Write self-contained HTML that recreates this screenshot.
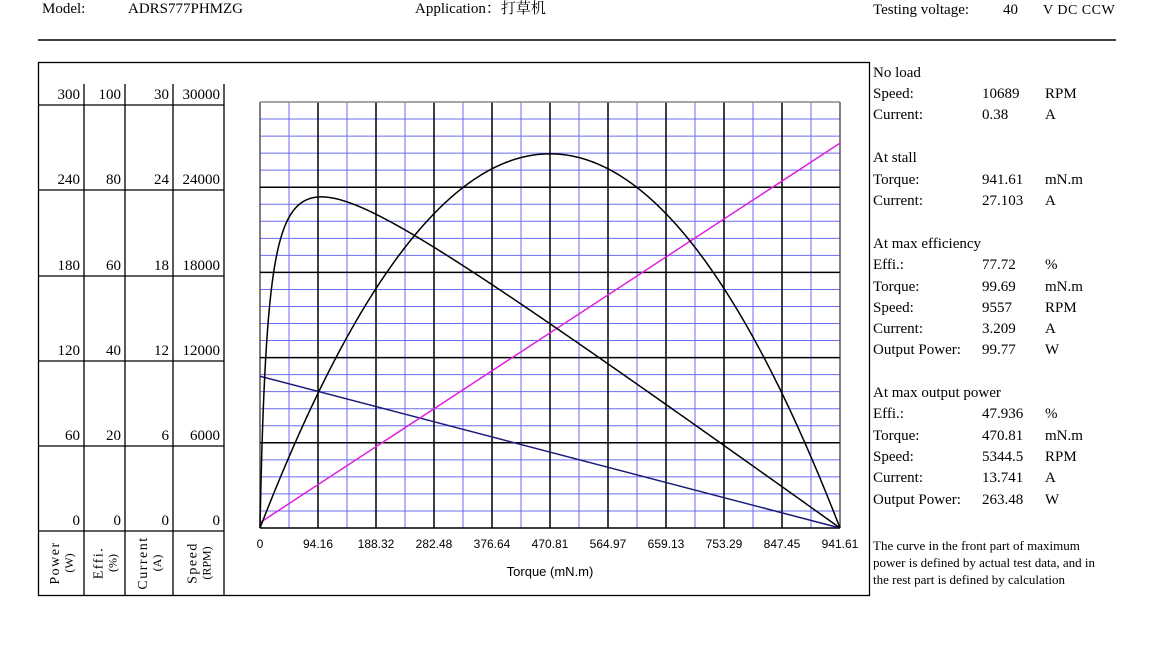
<!DOCTYPE html>
<html><head><meta charset="utf-8"><style>
html,body{margin:0;padding:0;background:#fff;}
svg{display:block;}
.t{font-family:"Liberation Serif","Noto Serif CJK SC",serif;font-size:15px;fill:#000;}
.a{font-family:"Liberation Sans",sans-serif;font-size:12px;fill:#000;}
.s{font-family:"Liberation Serif",serif;font-size:13px;fill:#000;}
.c{font-family:"Liberation Serif",serif;font-size:14px;letter-spacing:1.5px;fill:#000;}
</style></head><body>
<svg id="g" width="1170" height="668" xmlns="http://www.w3.org/2000/svg">
<text class="t" x="42" y="13">Model:</text>
<text class="t" x="128" y="13">ADRS777PHMZG</text>
<text class="t" x="415" y="13" style="font-family:'Liberation Serif','Noto Serif CJK SC',serif">Application：打草机</text>
<text class="t" x="873" y="14">Testing voltage:</text>
<text class="t" x="1003" y="14">40</text>
<text class="t" x="1043" y="14" style="font-size:14px;letter-spacing:0.5px">V  DC  CCW</text>
<line x1="38" y1="40" x2="1116" y2="40" stroke="#000" stroke-width="1.5"/>
<rect x="38.5" y="62.5" width="831" height="533" fill="none" stroke="#000" stroke-width="1.3"/>
<g id="left" stroke="#000" stroke-width="1.3"></g>
<g id="grid"></g>
<g id="curves" fill="none" stroke-width="1.5"></g>
<text class="a" x="550" y="576" text-anchor="middle" style="font-size:13px">Torque (mN.m)</text>
<g class="t">
<text x="873" y="77">No load</text>
<text x="873" y="98">Speed:</text><text x="982" y="98">10689</text><text x="1045" y="98">RPM</text>
<text x="873" y="119">Current:</text><text x="982" y="119">0.38</text><text x="1045" y="119">A</text>
<text x="873" y="162">At stall</text>
<text x="873" y="184">Torque:</text><text x="982" y="184">941.61</text><text x="1045" y="184">mN.m</text>
<text x="873" y="205">Current:</text><text x="982" y="205">27.103</text><text x="1045" y="205">A</text>
<text x="873" y="248">At max efficiency</text>
<text x="873" y="269">Effi.:</text><text x="982" y="269">77.72</text><text x="1045" y="269">%</text>
<text x="873" y="291">Torque:</text><text x="982" y="291">99.69</text><text x="1045" y="291">mN.m</text>
<text x="873" y="312">Speed:</text><text x="982" y="312">9557</text><text x="1045" y="312">RPM</text>
<text x="873" y="333">Current:</text><text x="982" y="333">3.209</text><text x="1045" y="333">A</text>
<text x="873" y="354">Output Power:</text><text x="982" y="354">99.77</text><text x="1045" y="354">W</text>
<text x="873" y="397">At max output power</text>
<text x="873" y="418">Effi.:</text><text x="982" y="418">47.936</text><text x="1045" y="418">%</text>
<text x="873" y="440">Torque:</text><text x="982" y="440">470.81</text><text x="1045" y="440">mN.m</text>
<text x="873" y="461">Speed:</text><text x="982" y="461">5344.5</text><text x="1045" y="461">RPM</text>
<text x="873" y="482">Current:</text><text x="982" y="482">13.741</text><text x="1045" y="482">A</text>
<text x="873" y="504">Output Power:</text><text x="982" y="504">263.48</text><text x="1045" y="504">W</text>
</g>
<g class="s">
<text x="873" y="550">The curve in the front part of maximum</text>
<text x="873" y="567">power is defined by actual test data, and in</text>
<text x="873" y="584">the rest part is defined by calculation</text>
</g>
</svg>
<script>
var NS="http://www.w3.org/2000/svg";
function el(p,n,a,t){var e=document.createElementNS(NS,n);for(var k in a)e.setAttribute(k,a[k]);if(t!==undefined)e.textContent=t;document.getElementById(p).appendChild(e);return e;}
var cols=[38,84,125,173,224];
for(var i=1;i<5;i++)el("left","line",{x1:cols[i],y1:84,x2:cols[i],y2:595});
var rows=[105,190,276,361,446,531];
rows.forEach(function(y){el("left","line",{x1:38,y1:y,x2:224,y2:y});});
var vals=[[300,240,180,120,60,0],[100,80,60,40,20,0],[30,24,18,12,6,0],[30000,24000,18000,12000,6000,0]];
for(var c=0;c<4;c++)for(var r=0;r<6;r++){el("left","text",{x:cols[c+1]-4,y:rows[r]-6,"text-anchor":"end",class:"t",stroke:"none"},vals[c][r]);}
var labs=[["Power","(W)"],["Effi.","(%)"],["Current","(A)"],["Speed","(RPM)"]];
for(var c=0;c<4;c++){var cx=(cols[c]+cols[c+1])/2;
el("left","text",{class:"c",stroke:"none","text-anchor":"middle",transform:"translate("+(cx-2)+",563) rotate(-90)"},labs[c][0]);
el("left","text",{class:"c",stroke:"none","text-anchor":"middle",transform:"translate("+(cx+12)+",563) rotate(-90)",style:"font-size:12px;letter-spacing:0"},labs[c][1]);}
var X0=260,X1=840,Y0=102,Y1=528,W=X1-X0,H=Y1-Y0;
for(var i=0;i<=20;i++){var x=X0+W*i/20;if(i%2)el("grid","line",{x1:x,y1:Y0,x2:x,y2:Y1,stroke:"#6b6bf0","stroke-width":1});}
for(var i=0;i<=25;i++){var y=Y0+H*i/25;if(i%5)el("grid","line",{x1:X0,y1:y,x2:X1,y2:y,stroke:"#6b6bf0","stroke-width":1});}
for(var i=0;i<=10;i++){var x=X0+W*i/10;el("grid","line",{x1:x,y1:Y0,x2:x,y2:Y1,stroke:(i==0||i==10)?"#555":"#000","stroke-width":1.5});}
for(var i=0;i<=5;i++){var y=Y0+H*i/5;el("grid","line",{x1:X0,y1:y,x2:X1,y2:y,stroke:i==0?"#888":"#000","stroke-width":1.5});}
var tl=["0","94.16","188.32","282.48","376.64","470.81","564.97","659.13","753.29","847.45","941.61"];
for(var i=0;i<=10;i++)el("grid","text",{x:X0+W*i/10,y:548,"text-anchor":"middle",class:"a"},tl[i]);
var Tm=941.61,N0=10689,I0=0.38,Is=27.103,V=40;
function px(T){return X0+W*T/Tm;}
function py(v,max){return Y1-H*v/max;}
var pw="",ef="";
for(var k=0;k<=600;k++){var T=Tm*k/600;var n=N0*(1-T/Tm),P=T/1000*n*2*Math.PI/60;
pw+=(k?"L":"M")+px(T).toFixed(2)+","+py(P,300).toFixed(2);}
for(var k=0;k<=800;k++){var T=Tm*Math.pow(k/800,2);var n=N0*(1-T/Tm),I=I0+(Is-I0)*T/Tm,P=T/1000*n*2*Math.PI/60,E=P/(V*I)*100;ef+=(k?"L":"M")+px(T).toFixed(2)+","+py(E,100).toFixed(2);}
el("curves","path",{d:"M"+X0+","+py(N0,30000)+"L"+X1+","+Y1,stroke:"#1a1a7a"});
el("curves","path",{d:"M"+X0+","+py(I0,30)+"L"+X1+","+py(Is,30),stroke:"#e020e0"});
el("curves","path",{d:pw,stroke:"#000"});
el("curves","path",{d:ef,stroke:"#000"});
</script>
</body></html>
